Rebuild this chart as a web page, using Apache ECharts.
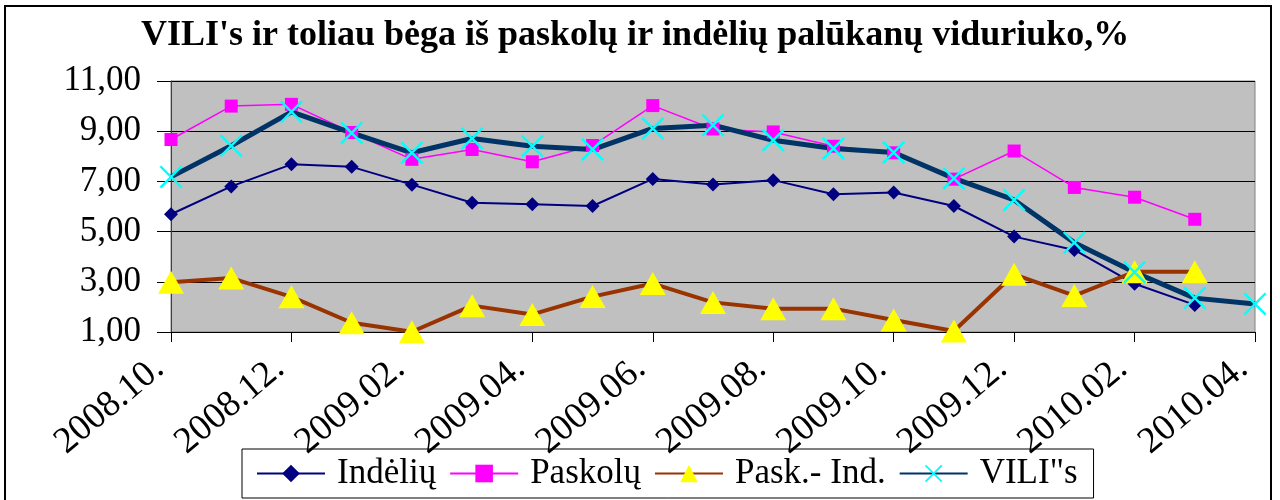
<!DOCTYPE html>
<html>
<head>
<meta charset="utf-8">
<script src="https://cdn.jsdelivr.net/npm/echarts@6/dist/echarts.min.js"></script>
<style>
  html, body { margin: 0; padding: 0; background: #ffffff; }
  #chart { width: 1280px; height: 500px; }
</style>
</head>
<body>
<div id="chart"></div>
<script>
const titleText = "VILI's ir toliau bėga iš paskolų ir indėlių palūkanų viduriuko,%";
const categories = ["2008.10.", "2008.11.", "2008.12.", "2009.01.", "2009.02.", "2009.03.", "2009.04.",
  "2009.05.", "2009.06.", "2009.07.", "2009.08.", "2009.09.", "2009.10.", "2009.11.", "2009.12.",
  "2010.01.", "2010.02.", "2010.03.", "2010.04."];
const seriesNames = ["Indėlių", "Paskolų", "Pask.- Ind.", "VILI\"s"];
const indeliu = [5.69, 6.80, 7.68, 7.58, 6.87, 6.15, 6.09, 6.02, 7.10, 6.88, 7.05, 6.49, 6.56, 6.02, 4.80, 4.27, 2.92, 2.08, null];
const paskolu = [8.67, 10.00, 10.07, 8.95, 7.88, 8.27, 7.78, 8.43, 10.02, 9.09, 8.97, 8.40, 8.14, 7.09, 8.21, 6.76, 6.37, 5.49, null];
const paskInd = [2.98, 3.15, 2.40, 1.37, 1.01, 2.05, 1.70, 2.41, 2.93, 2.18, 1.93, 1.93, 1.48, 1.04, 3.30, 2.45, 3.40, 3.40, null];
const vilis = [7.18, 8.42, 9.77, 8.93, 8.14, 8.71, 8.40, 8.27, 9.11, 9.24, 8.64, 8.31, 8.15, 7.12, 6.26, 4.56, 3.38, 2.35, 2.12];
const yMin = 1, yMax = 11, yStep = 2;

const serif = "'Liberation Serif', 'Times New Roman', serif";
const xMark = 'path://M0,1.5 L1.5,0 L20,18.5 L18.5,20 Z M18.5,0 L20,1.5 L1.5,20 L0,18.5 Z';

const chart = echarts.init(document.getElementById('chart'), null, { renderer: 'canvas' });
chart.setOption({
  backgroundColor: '#ffffff',
  animation: false,
  title: {
    text: titleText,
    left: 136,
    top: 13,
    textStyle: { fontFamily: serif, fontSize: 36, fontWeight: 'bold', color: '#000000' }
  },
  graphic: [{
    type: 'rect',
    shape: { x: 5, y: 6, width: 1266, height: 510 },
    style: { fill: null, stroke: '#000000', lineWidth: 2 },
    z: 100
  }],
  legend: {
    bottom: 2,
    left: 242,
    padding: [7, 16, 7, 14],
    itemGap: 13,
    itemWidth: 68,
    itemHeight: 22,
    borderColor: '#000000',
    borderWidth: 1,
    textStyle: { fontFamily: serif, fontSize: 35, color: '#000000', padding: [0, 0, 0, 7] },
    data: seriesNames
  },
  grid: {
    left: 171, top: 81, right: 25, bottom: 168,
    show: true,
    backgroundColor: '#C0C0C0',
    borderColor: '#808080',
    borderWidth: 1
  },
  xAxis: {
    type: 'category',
    data: categories,
    boundaryGap: false,
    axisLine: { lineStyle: { color: '#000000', width: 1 } },
    axisTick: { show: true, interval: 1, length: 10, lineStyle: { color: '#000000' } },
    axisLabel: {
      interval: 1, rotate: 40, margin: 46,
      align: 'right', verticalAlign: 'bottom',
      fontFamily: serif, fontSize: 37, color: '#000000'
    },
    splitLine: { show: false }
  },
  yAxis: {
    type: 'value',
    min: yMin, max: yMax, interval: yStep,
    axisLine: { show: true, lineStyle: { color: '#404040', width: 1 } },
    axisTick: { show: true, length: 14, lineStyle: { color: '#000000' } },
    axisLabel: {
      margin: 30,
      fontFamily: serif, fontSize: 35, color: '#000000',
      formatter: v => v.toFixed(2).replace('.', ',')
    },
    splitLine: { show: true, lineStyle: { color: '#000000', width: 1 } }
  },
  series: [
    {
      name: seriesNames[0], type: 'line', data: indeliu,
      symbol: 'diamond', symbolSize: 14,
      lineStyle: { color: '#000080', width: 2 },
      itemStyle: { color: '#000080' }
    },
    {
      name: seriesNames[1], type: 'line', data: paskolu,
      symbol: 'rect', symbolSize: 13,
      lineStyle: { color: '#FF00FF', width: 1.5 },
      itemStyle: { color: '#FF00FF' }
    },
    {
      name: seriesNames[2], type: 'line', data: paskInd,
      symbol: 'triangle', symbolSize: [26, 23],
      lineStyle: { color: '#993300', width: 4 },
      itemStyle: { color: '#FFFF00' }
    },
    {
      name: seriesNames[3], type: 'line', data: vilis,
      symbol: xMark, symbolSize: 23,
      lineStyle: { color: '#003366', width: 5 },
      itemStyle: { color: '#00FFFF' }
    }
  ]
});
</script>
</body>
</html>
